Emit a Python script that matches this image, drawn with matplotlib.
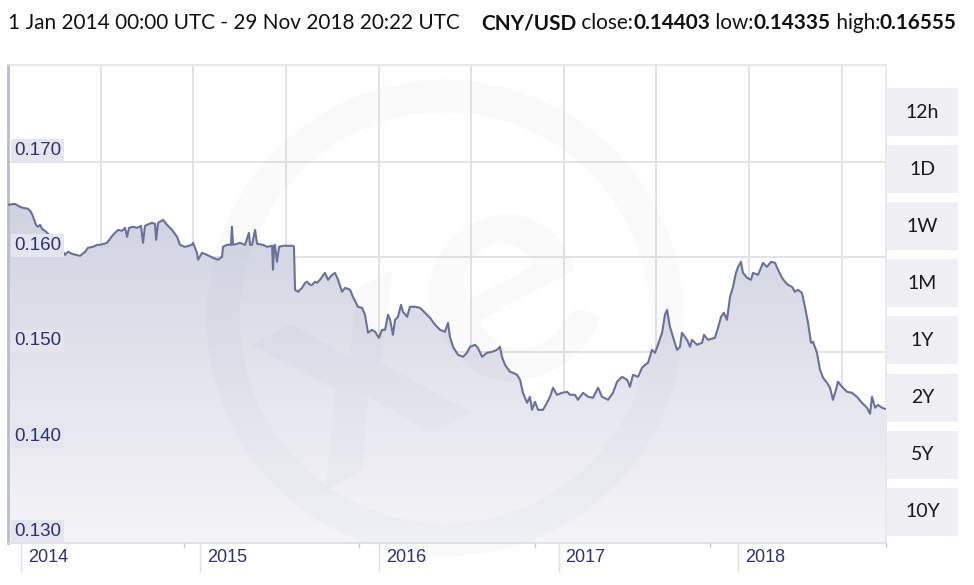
import numpy as np
import matplotlib
matplotlib.use("Agg")
import matplotlib.pyplot as plt
from matplotlib.colors import LinearSegmentedColormap
from matplotlib.patches import Rectangle, Circle
from matplotlib.transforms import IdentityTransform, blended_transform_factory

# ---------------- data ----------------
years = [
    2013.929, 2013.968, 2013.996, 2014.013, 2014.041, 2014.057, 2014.069, 2014.085, 2014.096, 2014.108,
    2014.119, 2014.136, 2014.175, 2014.208, 2014.230, 2014.247, 2014.264, 2014.286, 2014.308, 2014.331,
    2014.359, 2014.375, 2014.403, 2014.426, 2014.442, 2014.465, 2014.481, 2014.498, 2014.515, 2014.543,
    2014.565, 2014.582, 2014.593, 2014.604, 2014.626, 2014.649, 2014.671, 2014.682, 2014.693, 2014.704,
    2014.732, 2014.749, 2014.755, 2014.766, 2014.794, 2014.816, 2014.844, 2014.872, 2014.888, 2014.916,
    2014.939, 2014.955, 2014.961, 2014.983, 2014.989, 2015.011, 2015.039, 2015.072, 2015.100, 2015.123,
    2015.128, 2015.151, 2015.173, 2015.178, 2015.184, 2015.206, 2015.223, 2015.251, 2015.273, 2015.279,
    2015.290, 2015.307, 2015.318, 2015.351, 2015.374, 2015.402, 2015.407, 2015.413, 2015.418, 2015.429,
    2015.441, 2015.463, 2015.485, 2015.519, 2015.524, 2015.530, 2015.547, 2015.569, 2015.586, 2015.597,
    2015.614, 2015.625, 2015.641, 2015.653, 2015.669, 2015.697, 2015.714, 2015.731, 2015.753, 2015.770,
    2015.792, 2015.809, 2015.837, 2015.853, 2015.881, 2015.904, 2015.920, 2015.937, 2015.959, 2015.976,
    2015.998, 2016.015, 2016.032, 2016.049, 2016.060, 2016.076, 2016.088, 2016.104, 2016.121, 2016.132,
    2016.155, 2016.171, 2016.199, 2016.227, 2016.255, 2016.283, 2016.311, 2016.339, 2016.366, 2016.383,
    2016.394, 2016.411, 2016.439, 2016.467, 2016.489, 2016.506, 2016.534, 2016.550, 2016.573, 2016.601,
    2016.629, 2016.656, 2016.673, 2016.684, 2016.701, 2016.729, 2016.746, 2016.768, 2016.785, 2016.801,
    2016.824, 2016.840, 2016.852, 2016.868, 2016.885, 2016.913, 2016.935, 2016.952, 2016.969, 2016.991,
    2017.019, 2017.047, 2017.064, 2017.091, 2017.108, 2017.136, 2017.164, 2017.192, 2017.220, 2017.242,
    2017.276, 2017.303, 2017.326, 2017.354, 2017.382, 2017.398, 2017.415, 2017.443, 2017.465, 2017.482,
    2017.499, 2017.521, 2017.538, 2017.554, 2017.577, 2017.593, 2017.605, 2017.621, 2017.638, 2017.660,
    2017.677, 2017.688, 2017.716, 2017.733, 2017.744, 2017.772, 2017.800, 2017.811, 2017.833, 2017.872,
    2017.889, 2017.906, 2017.922, 2017.939, 2017.956, 2017.973, 2017.989, 2018.001, 2018.017, 2018.028,
    2018.051, 2018.073, 2018.084, 2018.112, 2018.140, 2018.162, 2018.185, 2018.207, 2018.224, 2018.246,
    2018.263, 2018.279, 2018.302, 2018.318, 2018.335, 2018.357, 2018.374, 2018.391, 2018.408, 2018.419,
    2018.441, 2018.458, 2018.475, 2018.497, 2018.514, 2018.530, 2018.547, 2018.558, 2018.581, 2018.608,
    2018.636, 2018.664, 2018.692, 2018.720, 2018.737, 2018.748, 2018.765, 2018.781, 2018.804, 2018.820,
]
rate = [
    0.16549, 0.16559, 0.16528, 0.16517, 0.16507, 0.16475, 0.16423, 0.16339, 0.16318, 0.16339,
    0.16297, 0.16276, 0.16203, 0.16129, 0.16077, 0.16024, 0.16056, 0.16035, 0.16024, 0.16014,
    0.16056, 0.16098, 0.16108, 0.16129, 0.16129, 0.16140, 0.16150, 0.16192, 0.16234, 0.16286,
    0.16276, 0.16307, 0.16213, 0.16307, 0.16318, 0.16307, 0.16328, 0.16150, 0.16328, 0.16339,
    0.16360, 0.16349, 0.16182, 0.16360, 0.16391, 0.16339, 0.16286, 0.16213, 0.16129, 0.16108,
    0.16119, 0.16129, 0.16150, 0.16045, 0.15972, 0.16045, 0.16024, 0.15993, 0.15972, 0.16003,
    0.16108, 0.16129, 0.16129, 0.16318, 0.16129, 0.16140, 0.16150, 0.16129, 0.16255, 0.16129,
    0.16129, 0.16286, 0.16140, 0.16129, 0.16108, 0.16119, 0.15867, 0.16119, 0.16129, 0.15951,
    0.16108, 0.16119, 0.16119, 0.16119, 0.16108, 0.15657, 0.15636, 0.15678, 0.15730, 0.15741,
    0.15709, 0.15709, 0.15741, 0.15730, 0.15762, 0.15835, 0.15762, 0.15804, 0.15835, 0.15762,
    0.15636, 0.15678, 0.15657, 0.15583, 0.15479, 0.15468, 0.15395, 0.15206, 0.15237, 0.15216,
    0.15153, 0.15237, 0.15237, 0.15395, 0.15342, 0.15185, 0.15342, 0.15374, 0.15499, 0.15426,
    0.15374, 0.15479, 0.15479, 0.15468, 0.15416, 0.15363, 0.15290, 0.15237, 0.15216, 0.15311,
    0.15164, 0.15059, 0.14975, 0.14954, 0.14996, 0.15059, 0.15080, 0.15048, 0.14954, 0.14996,
    0.15006, 0.15027, 0.15059, 0.14954, 0.14870, 0.14796, 0.14786, 0.14765, 0.14713, 0.14576,
    0.14471, 0.14534, 0.14398, 0.14482, 0.14398, 0.14398, 0.14471, 0.14534, 0.14629, 0.14555,
    0.14576, 0.14587, 0.14555, 0.14555, 0.14503, 0.14576, 0.14534, 0.14524, 0.14629, 0.14534,
    0.14503, 0.14576, 0.14692, 0.14744, 0.14713, 0.14639, 0.14765, 0.14744, 0.14838, 0.14870,
    0.14891, 0.15027, 0.14996, 0.15080, 0.15206, 0.15395, 0.15447, 0.15269, 0.15164, 0.15027,
    0.15059, 0.15206, 0.15132, 0.15059, 0.15132, 0.15080, 0.15101, 0.15185, 0.15132, 0.15153,
    0.15258, 0.15374, 0.15416, 0.15342, 0.15583, 0.15688, 0.15835, 0.15898, 0.15951, 0.15835,
    0.15783, 0.15762, 0.15835, 0.15814, 0.15940, 0.15898, 0.15951, 0.15940, 0.15867, 0.15783,
    0.15741, 0.15709, 0.15688, 0.15636, 0.15657, 0.15625, 0.15479, 0.15311, 0.15101, 0.15111,
    0.14996, 0.14817, 0.14734, 0.14681, 0.14629, 0.14503, 0.14608, 0.14692, 0.14639, 0.14587,
    0.14576, 0.14534, 0.14471, 0.14419, 0.14356, 0.14534, 0.14419, 0.14450, 0.14419, 0.14408,
]
year_ticks = [2014, 2015, 2016, 2017, 2018]
y_ticks = [0.130, 0.140, 0.150, 0.160, 0.170]
y_tick_labels = ["0.130", "0.140", "0.150", "0.160", "0.170"]
range_buttons = ["12h", "1D", "1W", "1M", "1Y", "2Y", "5Y", "10Y"]
title_parts = [
    ("1 Jan 2014 00:00 UTC - 29 Nov 2018 20:22 UTC    ", "normal"),
    ("CNY/USD", "bold"),
    (" close:", "normal"),
    ("0.14403", "bold"),
    (" low:", "normal"),
    ("0.14335", "bold"),
    (" high:", "normal"),
    ("0.16555", "bold"),
]

# ---------------- figure ----------------
W, H = 974, 585
fig = plt.figure(figsize=(W / 100, H / 100), dpi=100)
fig.patch.set_facecolor("white")

L, R, T, B = 8, 886, 65, 543
ax = fig.add_axes([L / W, 1 - B / H, (R - L) / W, (B - T) / H])
ax.set_facecolor("white")
XMIN, XMAX = 2013.929, 2018.826
YMIN, YMAX = 0.130, 0.18016
ax.set_xlim(XMIN, XMAX)
ax.set_ylim(YMIN, YMAX)

navy = "#2d3270"
grid_c = "#e2e2e8"

# horizontal gridlines
for v in y_ticks[1:]:
    ax.axhline(v, color=grid_c, lw=1.4, zorder=0.5)
# vertical gridlines (evenly spaced, independent of dates)
for k in range(1, 10):
    ax.axvline(XMIN + k * 0.1055 * (XMAX - XMIN), color=grid_c, lw=1.4, zorder=0.5)

# gradient fill under the line
cmap = LinearSegmentedColormap.from_list("g", ["#f5f5f8", "#c1c4d8"])
poly = ax.fill_between(years, rate, YMIN, facecolor="none", edgecolor="none")
grad = np.linspace(0, 1, 256).reshape(-1, 1)
im = ax.imshow(grad, extent=[XMIN, XMAX, YMIN, YMAX], origin="lower", cmap=cmap,
               aspect="auto", zorder=1, interpolation="bilinear")
im.set_clip_path(poly.get_paths()[0], transform=ax.transData)

ax.plot(years, rate, color="#6a7199", lw=1.5, zorder=3, solid_joinstyle="round")

# watermark (faint xe logo)
ring = Circle((445, H - 318), 222, transform=IdentityTransform(), facecolor="none",
              edgecolor="#7c84a6", lw=24, alpha=0.035, zorder=2)
fig.add_artist(ring)
fig.text(430 / W, 1 - 330 / H, "xe", fontsize=230, fontweight="bold", family="Lato",
         color="#7c84a6", alpha=0.04, ha="center", va="center", rotation=28, zorder=2)

# spines
for s in ["top", "right"]:
    ax.spines[s].set_color("#e4e4ea")
    ax.spines[s].set_linewidth(1.2)
ax.spines["left"].set_color("#b9bdd2")
ax.spines["left"].set_linewidth(2)
ax.spines["bottom"].set_color("#dcdce4")
ax.spines["bottom"].set_linewidth(1.2)

# ticks
ax.set_yticks([])
ax.set_xticks(year_ticks)
ax.set_xticklabels([])
ax.tick_params(axis="x", length=21, width=1, color="#e0e0e6", direction="out")
# minor ticks at fifths of the axis
btr = blended_transform_factory(ax.transAxes, ax.transAxes)
for f in [0.2, 0.4, 0.6, 0.8, 1.0]:
    ax.plot([f, f], [0, -0.008], transform=btr, color="#c8c8d2", lw=1, clip_on=False)

for yr in year_ticks:
    ax.annotate(str(yr), xy=(yr, 0), xycoords=("data", "axes fraction"),
                xytext=(7, -14), textcoords="offset pixels", ha="left", va="center",
                fontsize=13, color=navy, family="Liberation Sans")

for v, lab in zip(y_ticks, y_tick_labels):
    ax.annotate(lab, xy=(0, v), xycoords=("axes fraction", "data"),
                xytext=(6, 3), textcoords="offset pixels", ha="left", va="bottom",
                fontsize=13.5, color=navy, family="Liberation Sans", zorder=5,
                bbox=dict(boxstyle="square,pad=0.15", facecolor="#e4e5ef", edgecolor="none"))

# range buttons
for i, lab in enumerate(range_buttons):
    cy = 112 + i * 57.1
    fig.add_artist(Rectangle((887, H - cy - 24), 71, 48, transform=IdentityTransform(),
                             facecolor="#f0f0f4", edgecolor="none"))
    fig.text(922.5 / W, 1 - cy / H, lab, ha="center", va="center", fontsize=14,
             color="#1a1a1a", family="Lato")

# title with mixed weights
fs = 13
texts = []
for s, w in title_parts:
    t = fig.text(8 / W, 1 - 23 / H, s, fontsize=fs, fontweight=w, family="Lato",
                 color="#111111", ha="left", va="center")
    texts.append(t)

def layout(size):
    r = fig.canvas.get_renderer()
    x = 8
    for t in texts:
        t.set_fontsize(size)
        t.set_position((x / W, 1 - 23 / H))
        bb = t.get_window_extent(renderer=r)
        x += bb.width
    return x

end = layout(fs)
fs2 = fs * (955 - 8) / (end - 8)
layout(fs2)

fig.savefig("out.png", dpi=100, facecolor="white")
